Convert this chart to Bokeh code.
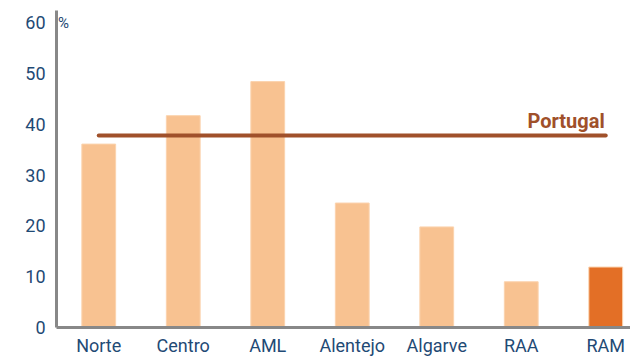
from bokeh.plotting import figure
from bokeh.models import FixedTicker, Range1d, Label, ColumnDataSource
from bokeh.core.properties import value
from bokeh.embed import file_html
from bokeh.resources import INLINE

regions = ["Norte", "Centro", "AML", "Alentejo", "Algarve", "RAA", "RAM"]
values = [36.1, 41.7, 48.4, 24.5, 19.8, 9.0, 11.9]
portugal = 37.8
y_ticks = [0, 10, 20, 30, 40, 50, 60]

light = "#F8C291"
dark = "#E36F26"
colors = [light] * 6 + [dark]
xs = list(range(len(regions)))

src = ColumnDataSource(dict(x=xs, top=values, color=colors))

p = figure(frame_width=574, frame_height=317, output_backend="svg", toolbar_location=None,
           x_range=Range1d(-0.5, 6.293), y_range=Range1d(0, 62.4),
           min_border_left=56, min_border_right=0, min_border_top=10, min_border_bottom=28)
p.outline_line_color = None
p.grid.visible = False
p.background_fill_color = "white"

p.vbar(x="x", top="top", width=0.40, bottom=0, source=src, fill_color="color",
       line_color="#FBD3AE", line_width=1)

p.line(x=[xs[0], xs[-1]], y=[portugal, portugal], line_color="#A0502A", line_width=4,
       line_cap="round")
p.add_layout(Label(x=xs[-1], y=portugal, text="Portugal", text_align="right",
                   text_baseline="alphabetic", y_offset=14, x_offset=-1,
                   text_font="Roboto", text_font_size="20px", text_font_style="bold",
                   text_color="#A0502A"))

lab_color = "#1F4A75"
p.xaxis.ticker = FixedTicker(ticks=xs)
p.xaxis.major_label_overrides = {i: r for i, r in enumerate(regions)}
p.yaxis.ticker = FixedTicker(ticks=y_ticks)
for ax in (p.xaxis, p.yaxis):
    ax.major_tick_line_color = None
    ax.minor_tick_line_color = None
    ax.major_tick_out = 0
    ax.major_tick_in = 0
    ax.axis_line_color = "#888888"
    ax.axis_line_width = 3
    ax.major_label_text_font = "Roboto"
    ax.major_label_text_font_size = "18px"
    ax.major_label_text_color = lab_color
p.xaxis.major_label_standoff = 7
p.yaxis.major_label_standoff = 11

p.add_layout(Label(x=-0.5, y=60, x_offset=1.5, text="%", text_baseline="middle",
                   text_font="Roboto", text_font_size="15px", text_color=lab_color))

open("out.html", "w").write(file_html(p, INLINE))
